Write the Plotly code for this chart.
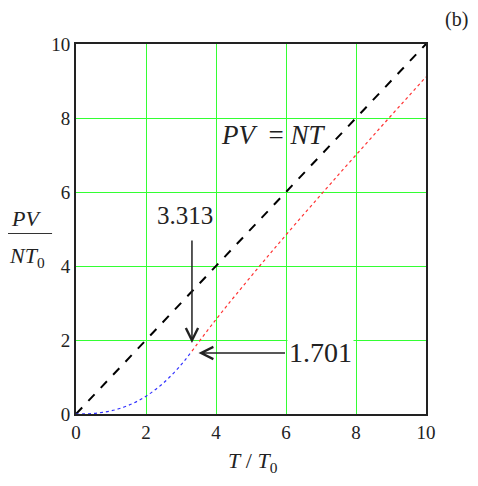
import plotly.graph_objects as go

# Reference line PV = NT
ref_T = [0, 10]
ref_PV = [0, 10]

# Condensed region (T < Tc), blue
blue_T = [0.0, 0.25, 0.5, 0.75, 1.0, 1.25, 1.5, 1.75, 2.0, 2.25, 2.5, 2.75, 3.0, 3.15, 3.313]
blue_PV = [0.0, 0.003, 0.015, 0.042, 0.085, 0.149, 0.235, 0.345, 0.482, 0.647, 0.841, 1.068, 1.327, 1.499, 1.701]

# Normal region (T > Tc), red
red_T = [3.313, 3.787, 4.120, 4.567, 5.390, 6.270, 7.303, 8.597, 9.944, 10.0]
red_PV = [1.701, 2.295, 2.697, 3.222, 4.161, 5.137, 6.256, 7.636, 9.052, 9.110]

x_ticks = [0, 2, 4, 6, 8, 10]
y_ticks = [0, 2, 4, 6, 8, 10]

Tc = 3.313
PVc = 1.701

FONT = "Liberation Serif"
GRID = "#33ff33"

fig = go.Figure()
fig.add_trace(go.Scatter(x=ref_T, y=ref_PV, mode="lines",
                         line=dict(color="black", width=2, dash="dash")))
fig.add_trace(go.Scatter(x=blue_T, y=blue_PV, mode="lines", line_shape="spline",
                         line=dict(color="rgb(50,50,255)", width=1.2, dash="dot")))
fig.add_trace(go.Scatter(x=red_T, y=red_PV, mode="lines", line_shape="spline",
                         line=dict(color="rgb(255,50,50)", width=1.2, dash="dot")))

fig.update_layout(
    width=470, height=478,
    margin=dict(l=68, r=52, t=36, b=72),
    plot_bgcolor="white", paper_bgcolor="white",
    showlegend=False,
    font=dict(family=FONT, size=19, color="#222"),
    xaxis=dict(range=[0, 10], tickvals=x_ticks, ticktext=[str(v) for v in x_ticks],
               showgrid=True, gridcolor=GRID, gridwidth=1, zeroline=False,
               showline=True, linecolor="#222", linewidth=2, mirror=True, ticks="",
               tickfont=dict(family=FONT, size=19, color="#222")),
    yaxis=dict(range=[0, 10], tickvals=y_ticks, ticktext=[str(v) for v in y_ticks],
               showgrid=True, gridcolor=GRID, gridwidth=1.3, zeroline=False,
               showline=True, linecolor="#222", linewidth=2, mirror=True, ticks="",
               tickfont=dict(family=FONT, size=19, color="#222")),
)

# Labels
fig.add_annotation(x=5.64, y=7.53, text="<i>PV</i>&nbsp; = <i>NT</i>", showarrow=False,
                   xanchor="center", yanchor="middle",
                   font=dict(family=FONT, size=27, color="#222"))
fig.add_annotation(x=3.1, y=5.37, text="3.313", showarrow=False, bgcolor="white",
                   xanchor="center", yanchor="middle",
                   font=dict(family=FONT, size=25, color="#222"))
fig.add_annotation(x=6.98, y=1.65, text="1.701", showarrow=False, bgcolor="white",
                   xanchor="center", yanchor="middle",
                   font=dict(family=FONT, size=28, color="#222"))

# Arrows
fig.add_annotation(x=Tc, y=1.92, ax=0, ay=-104, text="", showarrow=True,
                   arrowhead=5, arrowsize=1.6, arrowwidth=1.5, arrowcolor="#222")
fig.add_annotation(x=3.5, y=1.65, ax=88, ay=0, text="", showarrow=True,
                   arrowhead=5, arrowsize=1.6, arrowwidth=1.5, arrowcolor="#222")

# Axis titles
fig.add_annotation(xref="paper", yref="paper", x=0.507, y=-0.13, text="<i>T</i> / <i>T</i><sub>0</sub>",
                   xanchor="center", yanchor="middle",
                   showarrow=False, font=dict(family=FONT, size=22, color="#222"))
fig.add_annotation(xref="paper", yref="paper", x=-0.1425, y=0.5285, text="<i>PV</i>",
                   xanchor="center", yanchor="middle",
                   showarrow=False, font=dict(family=FONT, size=22, color="#222"))
fig.add_annotation(xref="paper", yref="paper", x=-0.1395, y=0.425, text="<i>NT</i><sub>0</sub>",
                   xanchor="center", yanchor="middle",
                   showarrow=False, font=dict(family=FONT, size=22, color="#222"))
fig.add_shape(type="line", xref="paper", yref="paper", x0=-0.2108, x1=-0.0684, y0=0.4878, y1=0.4878,
              line=dict(color="#333", width=1.2))
fig.add_annotation(xref="paper", yref="paper", x=1.088, y=1.065, text="(b)",
                   xanchor="center", yanchor="middle",
                   showarrow=False, font=dict(family=FONT, size=20, color="#222"))

fig.write_html("out.html")
